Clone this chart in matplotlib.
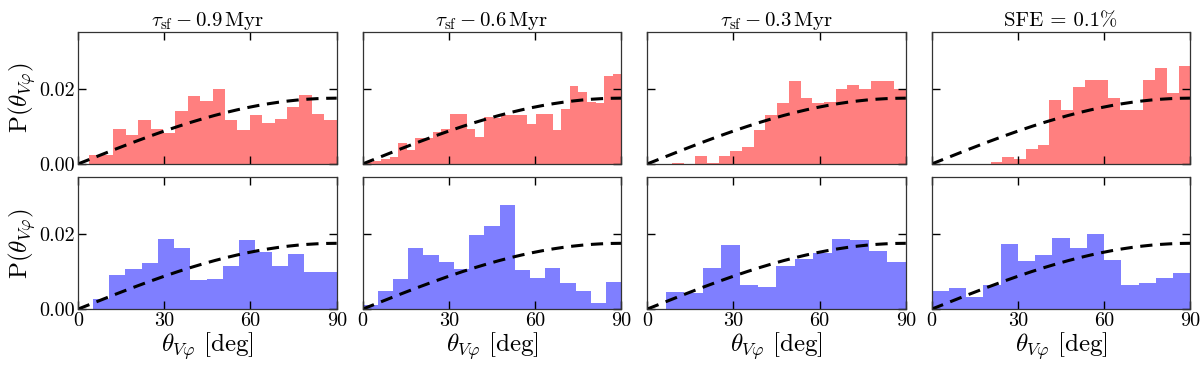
import matplotlib
matplotlib.use("Agg")
import matplotlib.pyplot as plt
import numpy as np

plt.rcParams['font.family'] = 'serif'
plt.rcParams['font.serif'] = ['cmr10', 'DejaVu Serif']
plt.rcParams['mathtext.fontset'] = 'cm'
plt.rcParams['axes.formatter.use_mathtext'] = True

titles = [r'$\tau_{\rm sf} - 0.9\,{\rm Myr}$', r'$\tau_{\rm sf} - 0.6\,{\rm Myr}$',
          r'$\tau_{\rm sf} - 0.3\,{\rm Myr}$', 'SFE = 0.1%']

# histogram heights (density), first edge of each panel's bins
top_start = [3.7, 0.5, 8.6, 20.5]
top_p1 = [0.0024, 0.0024, 0.0093, 0.0078, 0.0117, 0.0092, 0.0082, 0.0141, 0.0180, 0.0166,
          0.0200, 0.0117, 0.0089, 0.0129, 0.0109, 0.0120, 0.0150, 0.0184, 0.0132, 0.0117]
top_p2 = [0.0005, 0.0008, 0.0012, 0.0018, 0.0055, 0.0038, 0.0068, 0.0068, 0.0086, 0.0093,
          0.0133, 0.0133, 0.0093, 0.0071, 0.0124, 0.0122, 0.0129, 0.0129, 0.0129, 0.0107,
          0.0133, 0.0133, 0.0089, 0.0147, 0.0206, 0.0191, 0.0164, 0.0163, 0.0233, 0.0238]
top_p3 = [0.0003, 0.0001, 0.0020, 0.0003, 0.0020, 0.0035, 0.0044, 0.0089, 0.0129, 0.0162,
          0.0220, 0.0175, 0.0162, 0.0164, 0.0198, 0.0209, 0.0200, 0.0220, 0.0220, 0.0198]
top_p4 = [0.0006, 0.0018, 0.0013, 0.0040, 0.0049, 0.0169, 0.0142, 0.0204, 0.0224, 0.0222,
          0.0175, 0.0142, 0.0142, 0.0224, 0.0255, 0.0188, 0.0260]

bot_start = [5.2, 0.0, 0.0, 0.0]
bot_p1 = [0.0026, 0.0090, 0.0106, 0.0123, 0.0187, 0.0161, 0.0077, 0.0079, 0.0115, 0.0183,
          0.0152, 0.0115, 0.0145, 0.0099, 0.0099]
bot_p2 = [0.0011, 0.0048, 0.0079, 0.0161, 0.0143, 0.0126, 0.0106, 0.0196, 0.0220, 0.0275,
          0.0104, 0.0082, 0.0108, 0.0070, 0.0048, 0.0016, 0.0073]
bot_p3 = [0.0, 0.0046, 0.0044, 0.0108, 0.0170, 0.0064, 0.0059, 0.0115, 0.0132, 0.0148,
          0.0185, 0.0183, 0.0154, 0.0125]
bot_p4 = [0.0047, 0.0055, 0.0033, 0.0063, 0.0172, 0.0128, 0.0144, 0.0188, 0.0161, 0.0200,
          0.0130, 0.0064, 0.0069, 0.0083, 0.0097]

top_rows = [top_p1, top_p2, top_p3, top_p4]
bot_rows = [bot_p1, bot_p2, bot_p3, bot_p4]

xticks = [0, 30, 60, 90]
yticks = [0.0, 0.02]
ytick_labels = ['0.00', '0.02']

# isotropic reference curve
theta = np.linspace(0, 90, 300)
p_iso = np.sin(np.radians(theta)) * np.pi / 180.

fig, axes = plt.subplots(2, 4, figsize=(12, 3.68), dpi=100)
fig.subplots_adjust(left=0.065, right=0.992, top=0.913, bottom=0.16, wspace=0.1, hspace=0.1)

for row, (heights_list, starts, col) in enumerate([(top_rows, top_start, '#ff7f7f'),
                                                    (bot_rows, bot_start, '#7f7fff')]):
    for j in range(4):
        ax = axes[row, j]
        h = np.array(heights_list[j])
        edges = np.linspace(starts[j], 90, len(h) + 1)
        ax.stairs(h, edges, fill=True, color=col, lw=0)
        ax.plot(theta, p_iso, color='k', ls='--', lw=2.2, dashes=(4, 2.5))
        ax.set_xlim(0, 90)
        ax.set_ylim(0, 0.035)
        ax.set_xticks(xticks)
        ax.set_yticks(yticks)
        ax.tick_params(direction='in', top=True, right=True, length=6, width=1,
                       labelsize=14.5, pad=2)
        for s in ax.spines.values():
            s.set_linewidth(0.9)
            s.set_color('#333333')
        if j == 0:
            ax.set_yticklabels(ytick_labels)
            ax.set_ylabel(r'$\mathrm{P}(\theta_{V\varphi})$', fontsize=18, labelpad=1)
        else:
            ax.set_yticklabels([])
        if row == 1:
            ax.set_xticklabels([str(t) for t in xticks])
            ax.set_xlabel(r'$\theta_{V\varphi}\ [\mathrm{deg}]$', fontsize=18, labelpad=0)
        else:
            ax.set_xticklabels([])
            ax.set_title(titles[j], fontsize=15, pad=4)

plt.savefig('out.png', dpi=100)
